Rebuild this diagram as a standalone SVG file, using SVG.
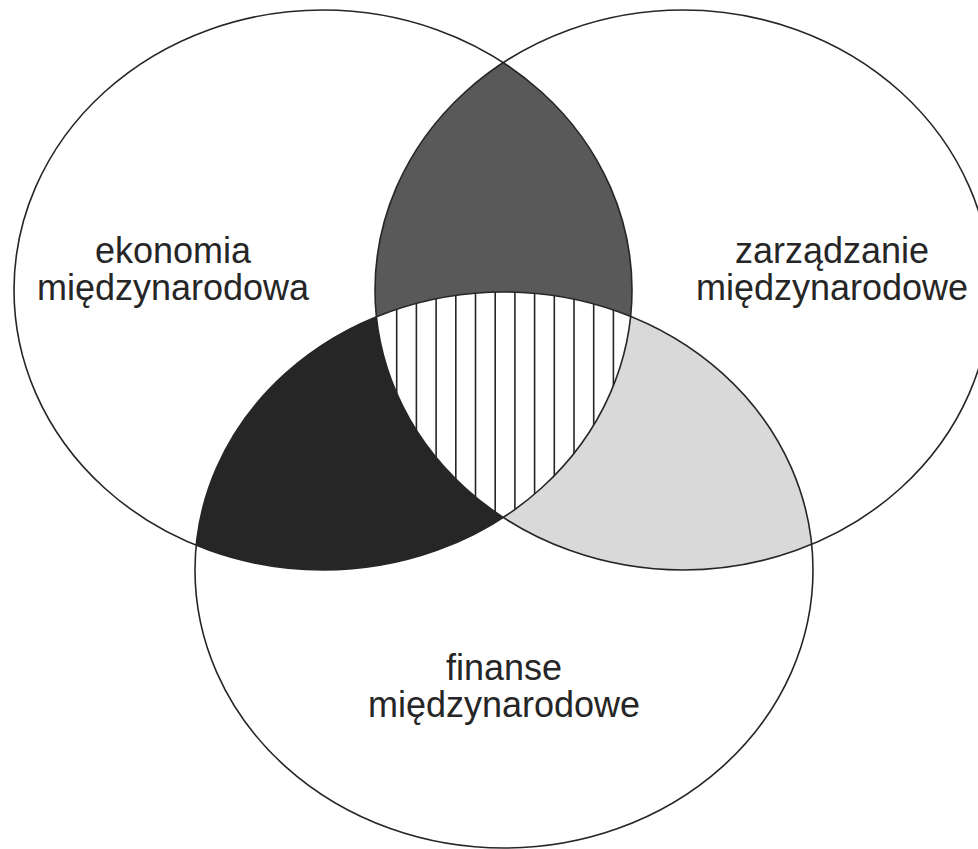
<svg xmlns="http://www.w3.org/2000/svg" width="978" height="849" viewBox="0 0 978 849">
<style>
.outline{fill:none;stroke:#262626;stroke-width:1.6}
.lbl{font-family:"Liberation Sans",Arial,sans-serif;font-size:36px;fill:#262626;text-anchor:middle}
.hatch{stroke:#262626;stroke-width:1.6}
</style>
<defs>
<ellipse id="eL" cx="323" cy="290" rx="309" ry="280"/>
<ellipse id="eR" cx="683" cy="290" rx="308" ry="280"/>
<ellipse id="eB" cx="504" cy="570" rx="309" ry="278"/>
<clipPath id="cL"><use href="#eL"/></clipPath>
<clipPath id="cR"><use href="#eR"/></clipPath>
<clipPath id="cB"><use href="#eB"/></clipPath>
</defs>
<rect width="978" height="849" fill="#ffffff"/>
<g id="regions">
<g clip-path="url(#cL)"><use href="#eR" fill="#595959"/></g>
<g clip-path="url(#cL)"><use href="#eB" fill="#262626"/></g>
<g clip-path="url(#cR)"><use href="#eB" fill="#d9d9d9"/></g>
<g clip-path="url(#cL)"><g clip-path="url(#cR)"><g clip-path="url(#cB)">
<rect x="360" y="280" width="290" height="250" fill="#ffffff"/>
<g class="hatch">
<line x1="396.7" y1="280" x2="396.7" y2="530"/>
<line x1="416.4" y1="280" x2="416.4" y2="530"/>
<line x1="436.1" y1="280" x2="436.1" y2="530"/>
<line x1="455.8" y1="280" x2="455.8" y2="530"/>
<line x1="475.5" y1="280" x2="475.5" y2="530"/>
<line x1="495.2" y1="280" x2="495.2" y2="530"/>
<line x1="514.9" y1="280" x2="514.9" y2="530"/>
<line x1="534.6" y1="280" x2="534.6" y2="530"/>
<line x1="554.3" y1="280" x2="554.3" y2="530"/>
<line x1="574.0" y1="280" x2="574.0" y2="530"/>
<line x1="593.7" y1="280" x2="593.7" y2="530"/>
<line x1="613.4" y1="280" x2="613.4" y2="530"/>
</g>
</g></g></g>
</g>
<g id="node-ekonomia">
<use href="#eL" class="outline"/>
<text class="lbl" x="173" y="263">ekonomia</text>
<text class="lbl" x="173" y="300">międzynarodowa</text>
</g>
<g id="node-zarzadzanie">
<use href="#eR" class="outline"/>
<text class="lbl" x="832" y="263">zarządzanie</text>
<text class="lbl" x="832" y="300">międzynarodowe</text>
</g>
<g id="node-finanse">
<use href="#eB" class="outline"/>
<text class="lbl" x="504" y="680">finanse</text>
<text class="lbl" x="504" y="717">międzynarodowe</text>
</g>
<g id="connectors"/>
</svg>
